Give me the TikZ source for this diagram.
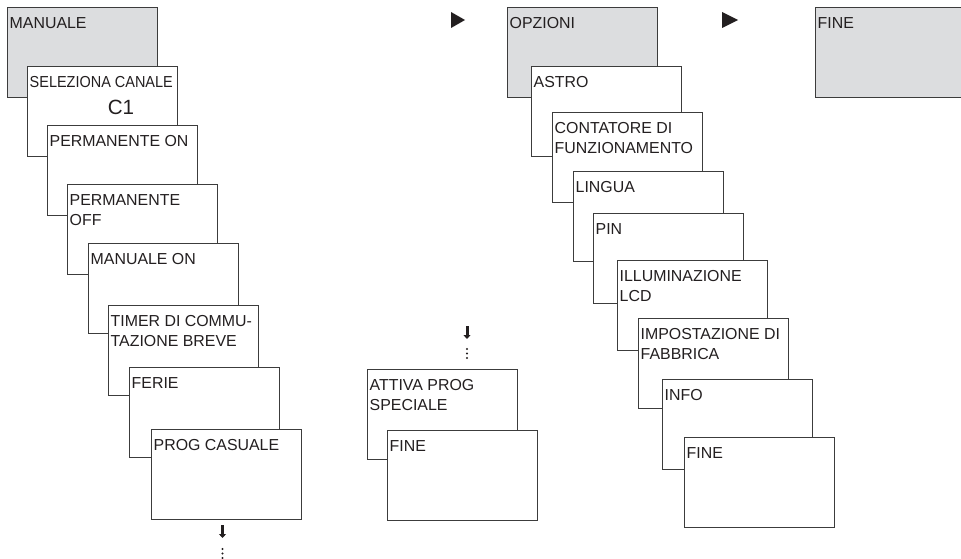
\documentclass[tikz,border=0pt]{standalone}
\usepackage{fontspec}
\setmainfont{Liberation Sans}
\usepackage{graphicx}
\usetikzlibrary{calc}
\usetikzlibrary{positioning}
\usetikzlibrary{arrows.meta}

\definecolor{linec}{HTML}{3C3C3C}
\definecolor{headfill}{HTML}{DCDDDF}
\definecolor{textc}{HTML}{231F20}
\newcommand\boxfont{\fontsize{15.9}{20}\selectfont}

\tikzset{
  box/.style={draw=linec,fill=white,line width=0.9pt,minimum width=150pt,minimum height=90pt,inner sep=0pt,anchor=north west},
  headbox/.style={box,fill=headfill},
  lbl/.style={anchor=north west,xshift=2.5pt,yshift=-10pt,align=left,inner sep=0pt,font=\boxfont,text=textc},
  downarr/.style={draw=textc,line width=3pt,-{Triangle[length=4pt,width=7pt]}},
}

\begin{document}
\begin{tikzpicture}[x=1pt,y=-1pt]

\clip (0,0) rectangle (961,559);

% MANUALE
\node[headbox] (man) at (7,7) {};
\node[lbl] (man-t) at (man.north west) {MANUALE};
\node[box,below right=59pt and 20pt of man.north west] (sel) {};
\node[lbl] (sel-t) at (sel.north west) {\scalebox{0.91}[1]{SELEZIONA CANALE}};
\node[anchor=base,inner sep=0pt,xshift=94pt,yshift=-49pt,font=\fontsize{20.6}{24}\selectfont,text=textc] (sel-c) at (sel.north west) {C1};
\node[box,below right=59pt and 20pt of sel.north west] (pon) {};
\node[lbl] (pon-t) at (pon.north west) {PERMANENTE ON};
\node[box,below right=59pt and 20pt of pon.north west] (poff) {};
\node[lbl] (poff-t) at (poff.north west) {PERMANENTE\\OFF};
\node[box,below right=59pt and 21pt of poff.north west] (mon) {};
\node[lbl] (mon-t) at (mon.north west) {MANUALE ON};
\node[box,below right=62pt and 20pt of mon.north west] (tim) {};
\node[lbl] (tim-t) at (tim.north west) {TIMER DI COMMU-\\TAZIONE BREVE};
\node[box,below right=62pt and 21pt of tim.north west] (fer) {};
\node[lbl] (fer-t) at (fer.north west) {FERIE};
\node[box,below right=62pt and 22pt of fer.north west] (cas) {};
\node[lbl] (cas-t) at (cas.north west) {PROG CASUALE};

\coordinate (arr1) at (222.5,525);
\draw[downarr] (arr1) -- ++(0,13);
\foreach \y in {549,553.5,558}
  \fill[textc] (222.5,\y) circle (1.1pt);

% prog speciale
\coordinate (arr2) at (467,326);
\draw[downarr] (arr2) -- ++(0,13);
\foreach \y in {349,353.5,358}
  \fill[textc] (467,\y) circle (1.1pt);
\node[box] (att) at (367,369) {};
\node[lbl] (att-t) at (att.north west) {ATTIVA PROG\\SPECIALE};
\node[box,below right=61pt and 20pt of att.north west] (fin1) {};
\node[lbl] (fin1-t) at (fin1.north west) {FINE};

\fill[textc] (451,12) -- (451,28) -- (465,20) -- cycle;

% OPZIONI
\node[headbox] (opz) at (507,7) {};
\node[lbl] (opz-t) at (opz.north west) {OPZIONI};
\node[box,below right=59pt and 24pt of opz.north west] (ast) {};
\node[lbl] (ast-t) at (ast.north west) {ASTRO};
\node[box,below right=46pt and 21pt of ast.north west] (cont) {};
\node[lbl] (cont-t) at (cont.north west) {CONTATORE DI\\FUNZIONAMENTO};
\node[box,below right=59pt and 21pt of cont.north west] (lin) {};
\node[lbl] (lin-t) at (lin.north west) {LINGUA};
\node[box,below right=42pt and 20pt of lin.north west] (pin) {};
\node[lbl] (pin-t) at (pin.north west) {PIN};
\node[box,below right=47pt and 24pt of pin.north west] (ill) {};
\node[lbl] (ill-t) at (ill.north west) {ILLUMINAZIONE\\LCD};
\node[box,below right=58pt and 21pt of ill.north west] (imp) {};
\node[lbl] (imp-t) at (imp.north west) {IMPOSTAZIONE DI\\FABBRICA};
\node[box,below right=61pt and 24pt of imp.north west] (inf) {};
\node[lbl] (inf-t) at (inf.north west) {INFO};
\node[box,below right=58pt and 22pt of inf.north west] (fin2) {};
\node[lbl] (fin2-t) at (fin2.north west) {FINE};

\fill[textc] (722,12) -- (722,28) -- (738,20) -- cycle;

% FINE
\node[headbox] (fin3) at (815,7) {};
\node[lbl] (fin3-t) at (fin3.north west) {FINE};

\end{tikzpicture}
\end{document}
